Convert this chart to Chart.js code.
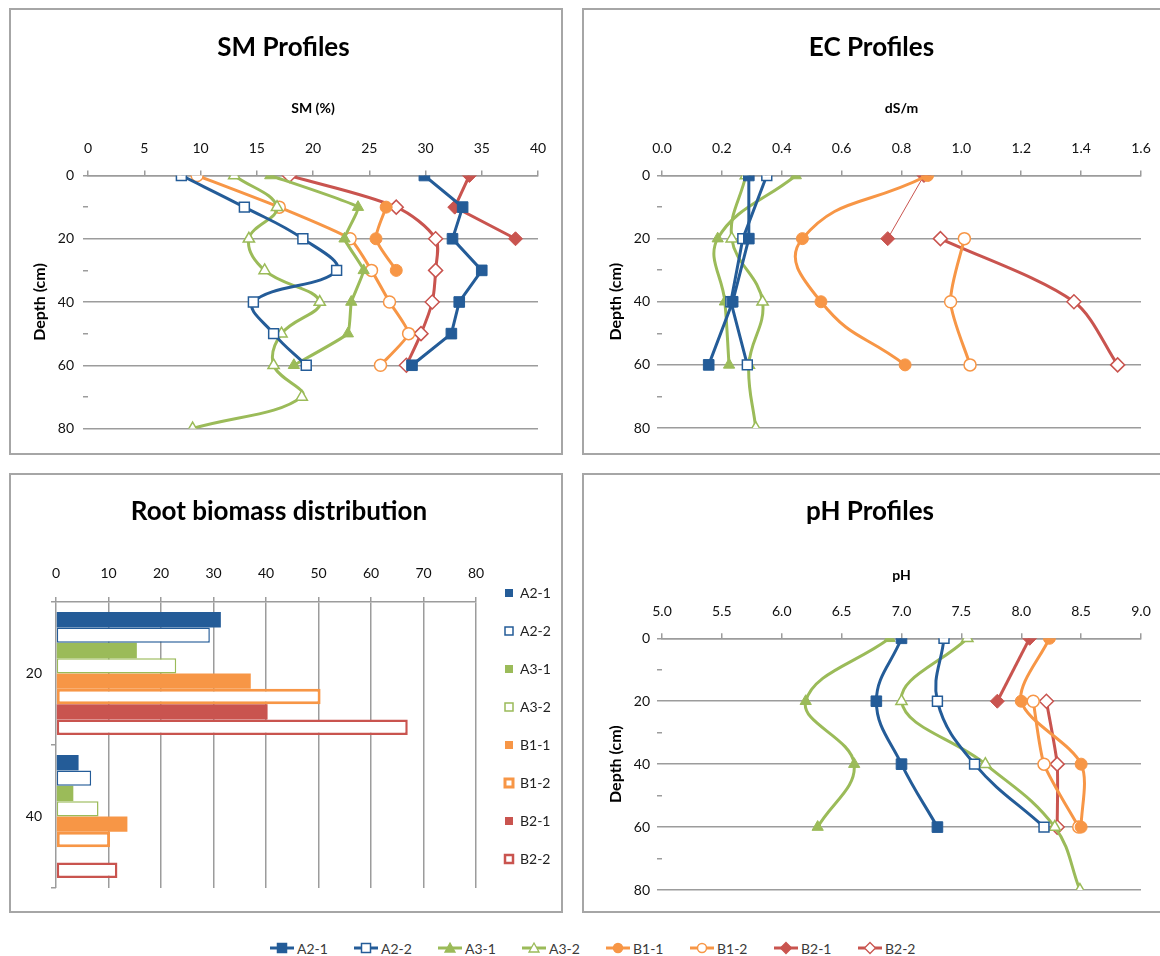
<!DOCTYPE html>
<html><head><meta charset="utf-8">
<script src="https://cdn.jsdelivr.net/npm/chart.js@4.4.1/dist/chart.umd.min.js"></script>
<style>
html,body{margin:0;padding:0;background:#fff;}
body{width:1160px;height:956px;position:relative;overflow:hidden;font-family:Lato,'Open Sans',sans-serif;}
.panel{position:absolute;border:2px solid #a6a6a6;box-sizing:border-box;background:#fff;}
.panel canvas{position:absolute;left:0;top:0;}
#legend{position:absolute;left:0;top:938px;width:1160px;height:20px;}
.li{position:absolute;top:0;height:20px;display:flex;align-items:center;font-size:14px;color:#3a3a3a;white-space:nowrap;}
.li svg{margin-right:3px;}
</style></head>
<body>
<div class="panel" style="left:9px;top:8px;width:554px;height:447px;"><canvas id="sm" width="550" height="443"></canvas></div>
<div class="panel" style="left:582px;top:8px;width:590px;height:447px;"><canvas id="ec" width="586" height="443"></canvas></div>
<div class="panel" style="left:9px;top:473px;width:554px;height:440px;"><canvas id="bio" width="550" height="436"></canvas></div>
<div class="panel" style="left:582px;top:473px;width:590px;height:440px;"><canvas id="ph" width="586" height="436"></canvas></div>
<div id="legend"></div>
<script>
// ---------------- DATA ----------------
const SERIES = ['A2-1','A2-2','A3-1','A3-2','B1-1','B1-2','B2-1','B2-2'];

// SM profiles (%), depths in cm
const SM_DEPTHS = [0,10,20,30,40,50,60,70,80];
const SM_A2_1 = [29.9, 33.3, 32.4, 35.0, 33.0, 32.3, 28.8, null, null];
const SM_A2_2 = [8.3, 13.9, 19.1, 22.1, 14.7, 16.5, 19.4, null, null];
const SM_A3_1 = [16.2, 24.0, 22.8, 24.5, 23.4, 23.1, 18.3, null, null];
const SM_A3_2 = [13.0, 16.8, 14.3, 15.7, 20.6, 17.2, 16.5, 19.0, 9.3];
const SM_B1_1 = [null, 26.5, 25.6, 27.4, null, null, null, null, null];
const SM_B1_2 = [9.7, 17.0, 23.3, 25.2, 26.8, 28.5, 26.0, null, null];
const SM_B2_1 = [33.9, 32.6, 38.0, null, null, null, null, null, null];
const SM_B2_2 = [17.9, 27.4, 30.9, 30.9, 30.6, 29.6, 28.3, null, null];

// EC profiles (dS/m)
const EC_DEPTHS = [0,20,40,60,80];
const EC_A2_1 = [0.29, 0.29, 0.236, 0.156, null];
const EC_A2_2 = [0.35, 0.27, 0.23, 0.285, null];
const EC_A3_1 = [0.447, 0.186, 0.21, 0.224, null];
const EC_A3_2 = [0.28, 0.233, 0.336, 0.29, 0.313];
const EC_B1_1 = [0.887, 0.469, 0.531, 0.812, null];
const EC_B1_2 = [null, 1.01, 0.964, 1.029, null];
const EC_B2_1 = [0.875, 0.754, null, null, null];
const EC_B2_2 = [null, 0.93, 1.376, 1.522, null];

// pH profiles
const PH_DEPTHS = [0,20,40,60,80];
const PH_A2_1 = [7.0, 6.79, 7.0, 7.30, null];
const PH_A2_2 = [7.355, 7.30, 7.61, 8.19, null];
const PH_A3_1 = [6.90, 6.20, 6.605, 6.30, null];
const PH_A3_2 = [7.55, 7.0, 7.70, 8.28, 8.49];
const PH_B1_1 = [8.235, 8.0, 8.50, 8.50, null];
const PH_B1_2 = [null, 8.10, 8.19, 8.48, null];
const PH_B2_1 = [8.07, 7.80, null, null, null];
const PH_B2_2 = [null, 8.21, 8.30, 8.30, null];

// Root biomass distribution
const BIOMASS_DEPTHS = ['20','40'];
const BM_A2_1 = [31.4, 4.3];
const BM_A2_2 = [29.3, 6.7];
const BM_A3_1 = [15.4, 3.3];
const BM_A3_2 = [22.9, 8.1];
const BM_B1_1 = [37.1, 13.6];
const BM_B1_2 = [50.4, 10.3];
const BM_B2_1 = [40.3, null];
const BM_B2_2 = [67.0, 11.7];

// axis ticks
const DEPTH_LABELS = [0,20,40,60,80];
const SM_TICKS = {min:0, max:40, step:5};
const EC_TICKS = {min:0, max:1.6, step:0.2};
const PH_TICKS = {min:5, max:9, step:0.5};
const BM_TICKS = {min:0, max:80, step:10};

// ---------------- STYLE ----------------
const FONT = "Lato, 'Open Sans', sans-serif";
const GRID = '#9c9c9c';
const BLUE = '#245c98', GREEN = '#9bbb59', ORANGE = '#f79646', RED = '#c9544f';
const STYLE = {
  'A2-1': {color: BLUE,   marker: 'rect',     filled: true,  r: 7.5},
  'A2-2': {color: BLUE,   marker: 'rect',     filled: false, r: 7},
  'A3-1': {color: GREEN,  marker: 'triangle', filled: true,  r: 6.5},
  'A3-2': {color: GREEN,  marker: 'triangle', filled: false, r: 6.5},
  'B1-1': {color: ORANGE, marker: 'circle',   filled: true,  r: 6},
  'B1-2': {color: ORANGE, marker: 'circle',   filled: false, r: 6},
  'B2-1': {color: RED,    marker: 'rectRot',  filled: true,  r: 7},
  'B2-2': {color: RED,    marker: 'rectRot',  filled: false, r: 7}
};

function pts(depths, vals){
  const out = [];
  vals.forEach((v,i)=>{ if(v!==null && v!==undefined) out.push({x:v, y:depths[i]}); });
  return out;
}

function profileChart(id, title, axisTitle, ticks, decimals, depths, valueLists, tensions, widths, g){
  const datasets = SERIES.map((name,i)=>{
    const s = STYLE[name];
    return {
      label: name,
      data: pts(depths, valueLists[i]),
      showLine: true,
      borderColor: s.color,
      borderWidth: widths[i],
      tension: tensions[i],
      pointStyle: s.marker,
      pointRadius: s.r,
      pointBackgroundColor: s.filled ? s.color : '#ffffff',
      pointBorderColor: s.color,
      pointBorderWidth: s.filled ? 1 : 1.5
    };
  });
  return new Chart(document.getElementById(id), {
    type: 'scatter',
    data: {datasets},
    options: {
      responsive: false, animation: false, events: [],
      layout: {padding: {left: g.padLeft, right: g.padRight, top: 0, bottom: g.padBottom}},
      plugins: {
        legend: {display: false}, tooltip: {enabled: false},
        title: {display: true, text: title, color: '#000',
          font: {family: FONT, size: 26, weight: 'bold'},
          padding: {top: g.titlePad, bottom: 10}}
      },
      scales: {
        x: {
          type: 'linear', position: 'top', min: ticks.min, max: ticks.max,
          ticks: {stepSize: ticks.step, autoSkip: false, maxRotation: 0, color: '#111',
            font: {family: FONT, size: 14}, padding: g.tickPad,
            callback: v => decimals ? Number(v).toFixed(decimals) : String(v)},
          grid: {drawOnChartArea: false, drawTicks: true, tickLength: 5, color: GRID, lineWidth: 1.5},
          border: {display: true, color: GRID, width: 1.5},
          title: {display: true, text: axisTitle, color: '#000',
            font: {family: FONT, size: 14, weight: 'bold'},
            padding: {top: g.axisTitlePad, bottom: 0}},
          afterFit: s => { s.height = g.xHeight; }
        },
        y: {
          type: 'linear', reverse: true, min: 0, max: 80,
          ticks: {stepSize: 10, autoSkip: false, color: '#111',
            font: {family: FONT, size: 14}, padding: g.yTickPad,
            callback: v => DEPTH_LABELS.includes(v) ? String(v) : ''},
          grid: {color: c => (c.tick && DEPTH_LABELS.includes(c.tick.value)) ? GRID : 'rgba(0,0,0,0)',
            tickColor: GRID, lineWidth: 1.5, tickLength: 5, drawTicks: true},
          border: {display: false},
          title: {display: true, text: 'Depth (cm)', color: '#000',
            font: {family: FONT, size: 16, weight: 'bold'},
            padding: {top: g.yTitlePad, bottom: 0}},
          afterFit: s => { s.width = g.yWidth; }
        }
      }
    }
  });
}

profileChart('sm', 'SM Profiles', 'SM (%)', SM_TICKS, 0, SM_DEPTHS,
  [SM_A2_1, SM_A2_2, SM_A3_1, SM_A3_2, SM_B1_1, SM_B1_2, SM_B2_1, SM_B2_2],
  [0, 0.4, 0.1, 0.4, 0.2, 0.15, 0, 0.3],
  [3,3,3,3,3,3,3,3],
  {padLeft: 18, padRight: 23, padBottom: 24.5, titlePad: 22.4, xHeight: 101.9,
   axisTitlePad: 26, tickPad: 14, yWidth: 59, yTitlePad: 1.4, yTickPad: 9});

profileChart('ec', 'EC Profiles', 'dS/m', EC_TICKS, 1, EC_DEPTHS,
  [EC_A2_1, EC_A2_2, EC_A3_1, EC_A3_2, EC_B1_1, EC_B1_2, EC_B2_1, EC_B2_2],
  [0, 0, 0.4, 0.4, 0.5, 0.25, 0, 0.3],
  [3,3,3,3,3,3,1,3],
  {padLeft: 18, padRight: 29, padBottom: 25, titlePad: 22.4, xHeight: 101.9,
   axisTitlePad: 26, tickPad: 14, yWidth: 60, yTitlePad: 4.4, yTickPad: 7});

profileChart('ph', 'pH Profiles', 'pH', PH_TICKS, 1, PH_DEPTHS,
  [PH_A2_1, PH_A2_2, PH_A3_1, PH_A3_2, PH_B1_1, PH_B1_2, PH_B2_1, PH_B2_2],
  [0.4, 0.4, 0.4, 0.4, 0.3, 0.2, 0, 0.2],
  [3,3,3,3,3,3,3,3],
  {padLeft: 15, padRight: 29, padBottom: 21, titlePad: 21.4, xHeight: 100.7,
   axisTitlePad: 29, tickPad: 13.9, yWidth: 63, yTitlePad: 7.4, yTickPad: 7});

// ---------------- BAR CHART ----------------
const legendPlace = {
  id: 'legendPlace',
  afterLayout(chart, args, o){
    const L = chart.legend;
    if(!L || !o || o.left == null) return;
    L.left = o.left; L.right = chart.width;
    L.top = o.top; L.bottom = chart.height;
  }
};
const BM_VALUES = [BM_A2_1, BM_A2_2, BM_A3_1, BM_A3_2, BM_B1_1, BM_B1_2, BM_B2_1, BM_B2_2];
const BM_BORDER = [0, 1.5, 0, 1.5, 0, 3, 0, 2.5];
new Chart(document.getElementById('bio'), {
  type: 'bar',
  data: {
    labels: BIOMASS_DEPTHS,
    datasets: SERIES.map((name,i)=>{
      const s = STYLE[name];
      return {
        label: name, data: BM_VALUES[i],
        backgroundColor: s.filled ? s.color : '#ffffff',
        borderColor: s.color, borderWidth: s.filled ? 0 : BM_BORDER[i],
        borderSkipped: false, categoryPercentage: 0.86, barPercentage: 1
      };
    })
  },
  plugins: [legendPlace],
  options: {
    indexAxis: 'y', responsive: false, animation: false, events: [],
    layout: {padding: {left: 11, right: 25, top: 0, bottom: 23}},
    plugins: {
      tooltip: {enabled: false},
      title: {display: true, text: 'Root biomass distribution', color: '#000',
        font: {family: FONT, size: 26, weight: 'bold'}, padding: {top: 21.4, bottom: 10}},
      legend: {display: true, position: 'right', align: 'start', maxWidth: 60,
        labels: {boxWidth: 8, boxHeight: 8, padding: 24, color: '#222',
          font: {family: FONT, size: 14}}},
      legendPlace: {left: 470, top: 87}
    },
    scales: {
      x: {
        position: 'top', min: BM_TICKS.min, max: BM_TICKS.max,
        ticks: {stepSize: BM_TICKS.step, color: '#111', font: {family: FONT, size: 14}, padding: 15.6, maxRotation: 0},
        grid: {color: GRID, lineWidth: 1.5, tickLength: 5},
        border: {display: true, color: GRID, width: 1.5},
        afterFit: s => { s.height = 64.4; }
      },
      y: {
        ticks: {color: '#111', font: {family: FONT, size: 14}, padding: 9},
        grid: {drawOnChartArea: false, tickLength: 5, color: GRID, lineWidth: 1.5, offset: true},
        border: {display: false},
        afterFit: s => { s.width = 34; }
      }
    }
  }
});

// ---------------- SHARED LEGEND (HTML) ----------------
function markerSvg(name){
  const s = STYLE[name];
  const fill = s.filled ? s.color : '#fff';
  let m = '';
  if (s.marker === 'rect') m = `<rect x="7.5" y="2.5" width="9" height="9" fill="${fill}" stroke="${s.color}" stroke-width="1.5"/>`;
  else if (s.marker === 'triangle') m = `<polygon points="12,2 17,11 7,11" fill="${fill}" stroke="${s.color}" stroke-width="1.3"/>`;
  else if (s.marker === 'circle') m = `<circle cx="12" cy="7" r="4.5" fill="${fill}" stroke="${s.color}" stroke-width="1.5"/>`;
  else m = `<polygon points="12,1.5 17.5,7 12,12.5 6.5,7" fill="${fill}" stroke="${s.color}" stroke-width="1.3"/>`;
  return `<svg width="24" height="14" viewBox="0 0 24 14"><line x1="0" y1="7" x2="24" y2="7" stroke="${s.color}" stroke-width="3"/>${m}</svg>`;
}
const leg = document.getElementById('legend');
SERIES.forEach((name,i)=>{
  const d = document.createElement('div');
  d.className = 'li';
  d.style.left = (270 + 84*i) + 'px';
  d.innerHTML = markerSvg(name) + '<span>' + name + '</span>';
  leg.appendChild(d);
});
</script>
</body></html>
